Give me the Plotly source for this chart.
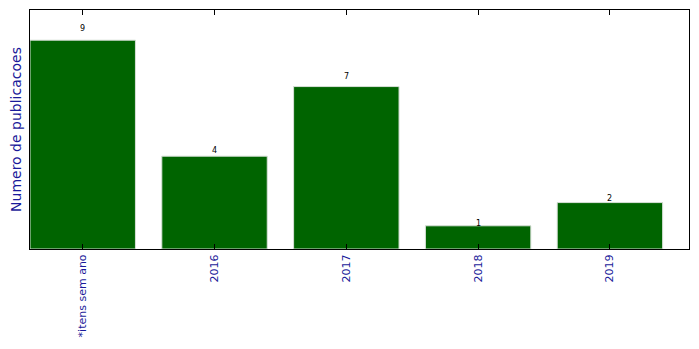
import plotly.graph_objects as go

categories = ["*itens sem ano", "2016", "2017", "2018", "2019"]
values = [9, 4, 7, 1, 2]

x_idx = list(range(len(categories)))

fig = go.Figure()
fig.add_trace(go.Bar(
    x=x_idx, y=values, width=0.8,
    marker=dict(color="#006400", line=dict(color="#d8e0d8", width=1)),
    showlegend=False,
))

for i, v in zip(x_idx, values):
    fig.add_annotation(x=i, y=v * 1.05, text=str(v), showarrow=False,
                       yanchor="bottom", yshift=-5,
                       font=dict(family="DejaVu Sans", size=8, color="black"))

fig.update_layout(
    width=699, height=349,
    margin=dict(l=30, r=10, t=10, b=100),
    paper_bgcolor="white", plot_bgcolor="white",
    font=dict(family="DejaVu Sans"),
    bargap=0.2,
)
fig.update_xaxes(
    range=[-0.4, 4.6], tickmode="array", tickvals=x_idx, ticktext=categories,
    tickangle=-90, tickfont=dict(size=11, color="#1a1a9a"),
    ticks="inside", ticklen=5, tickcolor="black",
    showline=True, linecolor="black", linewidth=1, mirror="ticks",
    showgrid=False, zeroline=False,
)
fig.update_yaxes(
    range=[0, 10.3], showticklabels=False, ticks="",
    showline=True, linecolor="black", linewidth=1, mirror=True,
    showgrid=False, zeroline=False,
    title=dict(text="Numero de publicacoes", font=dict(size=14, color="#1a1a9a"), standoff=4),
)

fig.write_html("out.html")
